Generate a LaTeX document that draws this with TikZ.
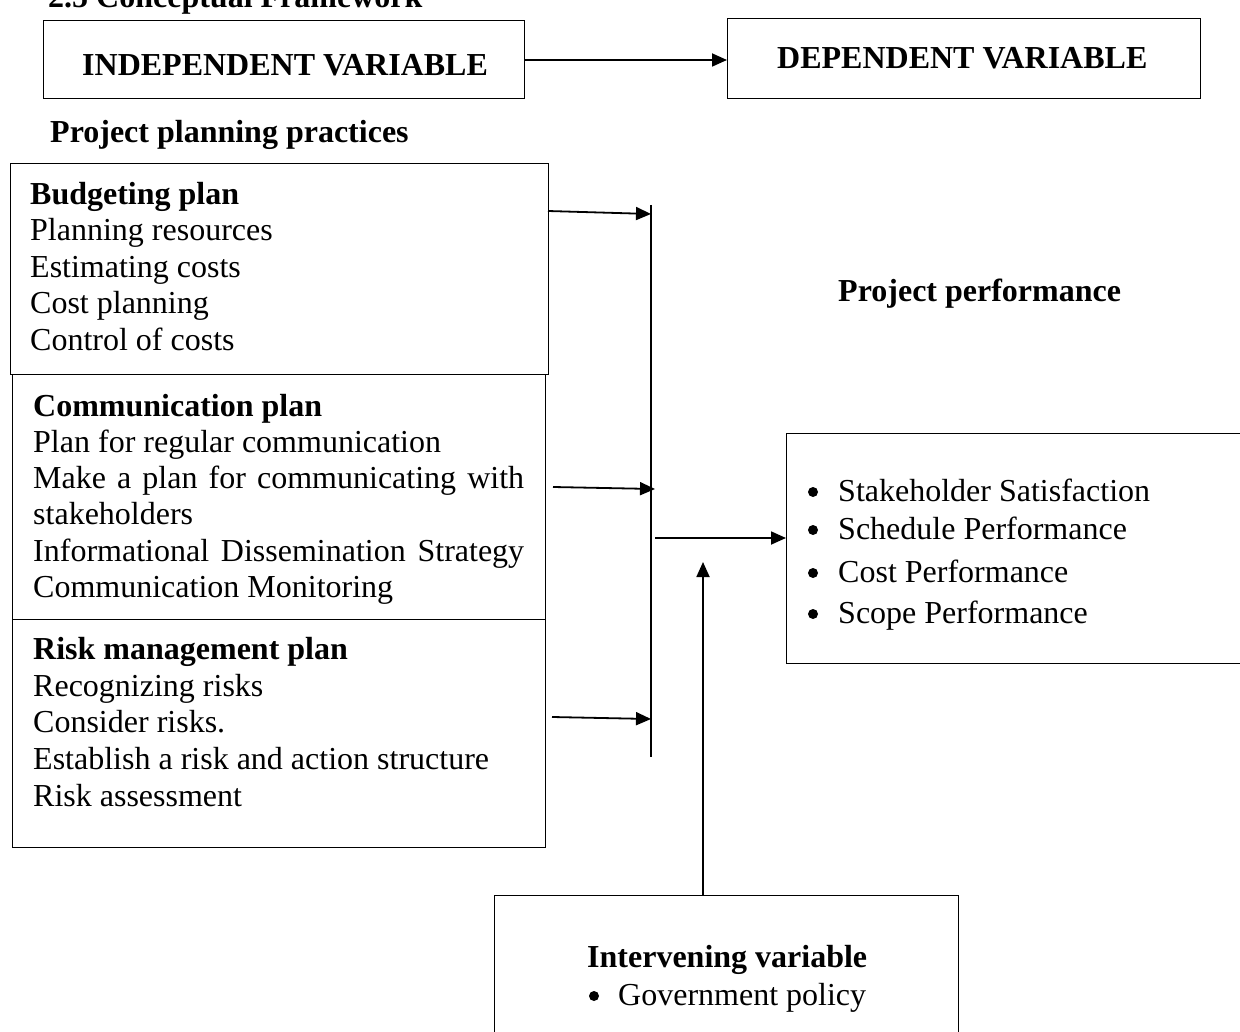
\documentclass[tikz,border=0pt]{standalone}
\usepackage{fontspec}
\setmainfont{Liberation Serif}
\usetikzlibrary{arrows.meta}
\begin{document}
\begin{tikzpicture}[x=1pt,y=-1pt,
  box/.style={draw, line width=1.3pt, anchor=north west, inner sep=0pt},
  txt/.style={anchor=base west, inner sep=0pt, font=\fontsize{32}{37}\selectfont},
  btxt/.style={anchor=base west, inner sep=0pt, font=\fontsize{32}{37}\selectfont\bfseries},
  bul/.style={circle, fill, inner sep=0pt, minimum size=10pt},
  conn/.style={line width=1.8pt, -{Triangle[length=15pt,width=13pt]}},
  plain/.style={line width=1.8pt},
]
\useasboundingbox (0,0) rectangle (1240,1032);

% title (cut off at top)
\node[btxt] (title) at (48,8) {2.5 Conceptual Framework};

% top boxes
\node[box, minimum width=481pt, minimum height=78pt] (ind) at (43,20) {};
\node[btxt] (indt) at (82,76) {INDEPENDENT VARIABLE};
\node[box, minimum width=473pt, minimum height=80pt] (dep) at (727,18) {};
\node[btxt] (dept) at (777,69) {DEPENDENT VARIABLE};
\coordinate (indr) at (524,60);
\coordinate (depl) at (727,60);
\draw[conn] (indr) -- (depl);

\node[btxt] (ppp) at (50,143) {Project planning practices};

% budgeting box
\node[box, minimum width=538pt, minimum height=211pt] (bud) at (10,163) {};
\node[btxt] (b0) at (30,205) {Budgeting plan};
\node[txt] (b1) at (30,241) {Planning resources};
\node[txt] (b2) at (30,278) {Estimating costs};
\node[txt] (b3) at (30,314) {Cost planning};
\node[txt] (b4) at (30,351) {Control of costs};

% communication box
\node[box, minimum width=533pt, minimum height=245pt] (com) at (12,374) {};
\node[btxt] (c0) at (33,416) {Communication plan};
\node[txt] (c1) at (33,452) {Plan for regular communication};
\node[txt] (c2) at (33,488) {\makebox[491pt][s]{Make a plan for communicating with}};
\node[txt] (c3) at (33,524) {stakeholders};
\node[txt] (c4) at (33,561) {\makebox[491pt][s]{Informational Dissemination Strategy}};
\node[txt] (c5) at (33,597) {Communication Monitoring};

% risk box
\node[box, minimum width=533pt, minimum height=228pt] (risk) at (12,619) {};
\node[btxt] (r0) at (33,659) {Risk management plan};
\node[txt] (r1) at (33,696) {Recognizing risks};
\node[txt] (r2) at (33,732) {Consider risks.};
\node[txt] (r3) at (33,769) {Establish a risk and action structure};
\node[txt] (r4) at (33,806) {Risk assessment};

% collector line
\coordinate (vtop) at (651,205);
\coordinate (vbot) at (651,757);
\draw[plain] (vtop) -- (vbot);

\coordinate (a1s) at (548,211);
\coordinate (a1e) at (651,214);
\coordinate (a2s) at (553,487);
\coordinate (a2e) at (655,489);
\coordinate (a3s) at (552,717);
\coordinate (a3e) at (651,719);
\draw[conn] (a1s) -- (a1e);
\draw[conn] (a2s) -- (a2e);
\draw[conn] (a3s) -- (a3e);

% performance
\node[btxt] (pp) at (838,302) {Project performance};
\node[box, minimum width=460pt, minimum height=230pt] (perf) at (786,433) {};
\node[bul] (pb1) at (813,492) {};
\node[txt] (p1) at (838,501) {Stakeholder Satisfaction};
\node[bul] (pb2) at (813,530) {};
\node[txt] (p2) at (838,539) {Schedule Performance};
\node[bul] (pb3) at (813,573) {};
\node[txt] (p3) at (838,582) {Cost Performance};
\node[bul] (pb4) at (813,614) {};
\node[txt] (p4) at (838,623) {Scope Performance};

\coordinate (outs) at (655,538);
\draw[conn] (outs) -- (perf.west |- outs);

% intervening
\node[box, minimum width=464pt, minimum height=150pt] (int) at (494,895) {};
\node[btxt] (i0) at (587,967) {Intervening variable};
\node[bul] (ib) at (594,996) {};
\node[txt] (i1) at (618,1005) {Government policy};
\coordinate (intop) at (703,895);
\coordinate (upend) at (703,562);
\draw[conn] (intop) -- (upend);
\end{tikzpicture}
\end{document}
